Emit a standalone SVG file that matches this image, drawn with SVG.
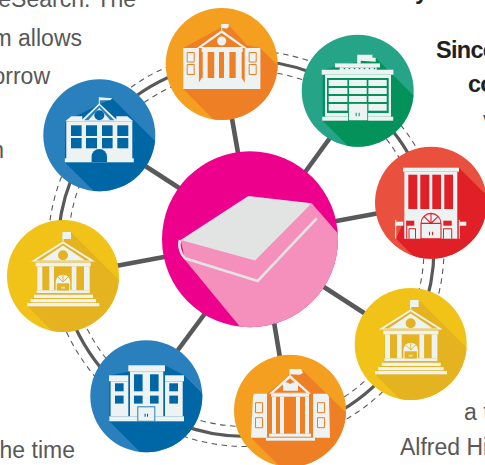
<svg xmlns="http://www.w3.org/2000/svg" xmlns:xlink="http://www.w3.org/1999/xlink" width="485" height="465" viewBox="0 0 485 465">
<style>
.t{font-family:"Liberation Sans",Arial,sans-serif;font-size:23px;fill:#58585a}
.b{font-family:"Liberation Sans",Arial,sans-serif;font-size:23.500px;letter-spacing:-.7px;font-weight:bold;fill:#231f20}
.solid{fill:none;stroke:#58595b;stroke-width:3.2}
.dash{fill:none;stroke:#58595b;stroke-width:1.100;stroke-dasharray:5.500 4.500}
.spoke{stroke:#58595b;stroke-width:4.600;fill:none}
.w{fill:#edf2f3}
.orange{fill:#f49f1f}.orangeD{fill:#ee7f24}
.blue{fill:#2980bc}.blueD{fill:#0067a7}
.green{fill:#26a488}.greenD{fill:#03935a}
.red{fill:#e9503d}.redD{fill:#e01f26}
.yellow{fill:#f1c319}.yellowD{fill:#e4b31f}
</style>
<defs>
<clipPath id="c56"><circle r="56"/></clipPath>
<clipPath id="c88"><circle r="88"/></clipPath>
<g id="court">
<rect class="w" x="-0.600" y="-44" width="1.200" height="9"/>
<polygon class="w" points="0,-44 8,-44 8,-37 0,-37"/>
<polygon class="w" points="0,-34.700 32,-14.500 -32,-14.500"/>
<polygon class="yellowD" points="0,-32.500 27,-15.500 -27,-15.500"/>
<polygon class="w" points="0,-30.500 22,-15.700 -22,-15.700"/>
<circle class="yellowD" cy="-20.700" r="5"/>
<rect class="w" x="-27.300" y="-13.500" width="55" height="3.800"/>
<rect class="w" x="-25.700" y="-9.700" width="5" height="24"/>
<rect class="w" x="-13.700" y="-9.700" width="4.700" height="24"/>
<rect class="w" x="8.700" y="-9.700" width="4.700" height="24"/>
<rect class="w" x="21" y="-9.700" width="5.700" height="24"/>
<rect class="w" x="-26.300" y="14.300" width="53" height="2.700"/>
<path class="w" d="M-7.300 6A7.300 7.300 0 0 1 7.300 6V15H-7.300Z"/>
<path class="yellowD" d="M-6.200 7.300H6.200V14.600H-6.200Z"/>
<rect class="w" x="-2" y="10.700" width="4" height="2" opacity=".6"/>
<path d="M0-1V6M-5 1L0 6L5 1" stroke="#e4b31f" stroke-width=".9" fill="none"/>
<rect class="w" x="-29" y="18.700" width="59" height="3.300"/>
<rect class="w" x="-32.500" y="23" width="65.500" height="3.300"/>
<rect class="w" x="-35.700" y="27" width="72" height="3.300"/>
</g>
</defs>

<g id="connectors">
<circle class="dash" cx="246" cy="248.500" r="198"/>
<circle class="dash" cx="246" cy="248.500" r="178"/>
<circle class="solid" cx="246" cy="248.500" r="188"/>
<path class="spoke" d="M231 113L241 170"/>
<path class="spoke" d="M136 160L190 195"/>
<path class="spoke" d="M335 131L295 186"/>
<path class="spoke" d="M385 212L320 224"/>
<path class="spoke" d="M105 268L180 254"/>
<path class="spoke" d="M172 358L215 300"/>
<path class="spoke" d="M282 370L272 310"/>
<path class="spoke" d="M378 322L310 278"/>
</g>

<g id="text">
<text class="t" x="136" y="7" text-anchor="end">eSearch. The</text>
<text class="t" x="82" y="46" text-anchor="end">m allows</text>
<text class="t" x="50" y="84" text-anchor="end">orrow</text>
<text class="t" x="4" y="158" text-anchor="end">n</text>
<text class="t" x="75" y="458" text-anchor="end">he time</text>
<text class="b" x="436" y="58">Since</text>
<text class="b" x="468" y="92">co</text>
<text class="t" x="483" y="128">v</text>
<text class="b" x="415" y="-1">y</text>
<text class="t" x="464" y="420">a t</text>
<text class="t" x="400" y="455">Alfred Hit</text>
</g>

<g id="node-orange-top" transform="translate(221.700 64)">
<circle class="orange" r="56"/>
<polygon class="orangeD" clip-path="url(#c56)" points="6,-40 25,-19 38.500,-16 80,25 80,80 16,80 -38.500,25 -38.500,-16"/>
<rect class="w" x="-0.500" y="-40" width="1" height="6"/>
<polygon class="w" points="0,-40 7,-40 7,-37 5,-35.500 0,-36"/>
<polygon class="w" points="0,-34 25,-16 -25,-16"/>
<polygon class="orangeD" points="0,-31 20,-17 -20,-17"/>
<circle class="w" cy="-23" r="4.500"/>
<rect class="w" x="-20" y="-16" width="41" height="4"/>
<path class="w" d="M-19-12h39v26h-39z"/>
<rect class="orangeD" x="-14" y="-12" width="6.500" height="26"/>
<rect class="orangeD" x="-2.700" y="-12" width="5" height="26"/>
<rect class="orangeD" x="7.700" y="-12" width="6.300" height="26"/>
<polygon class="w" points="-20,14 20,14 27,25 -27,25"/>
<rect class="w" x="-38.500" y="-16" width="15.700" height="41"/>
<rect class="w" x="23" y="-16" width="15.700" height="41"/>
<path fill="none" stroke="#ee7f24" d="M-34.500-11.500h7v9.500h-7zM-34.500 0.500h7v10h-7zM27.500-11.500h7v9.500h-7zM27.500 0.500h7v10h-7z"/>
</g>

<g id="node-blue-top" transform="translate(99.300 135.300)">
<circle class="blue" r="56"/>
<polygon class="blueD" clip-path="url(#c56)" points="13,-37 80,30 80,80 19,80 -34.500,27 -34,-14"/>
<rect class="w" x="-0.500" y="-38" width="1" height="7"/>
<polygon class="w" points="0,-38 13,-37 11,-35 0,-35"/>
<polygon class="w" points="0,-32 19,-14 -19,-14"/>
<polygon fill="#2980bc" points="0,-30 15,-15 -15,-15"/>
<polygon class="w" points="0,-27.500 11,-15 -11,-15"/>
<circle class="blueD" cy="-20" r="5"/>
<polygon class="w" points="-34,-14 -28,-19 -17,-19 -17,-14 17,-14 17,-19 28,-19 34,-14"/>
<rect class="w" x="-33" y="-14" width="66" height="38"/>
<rect class="w" x="-34.500" y="23" width="69" height="4"/>
<g class="blueD">
<rect x="-28.300" y="-10" width="10.600" height="10.700"/><rect x="-13.300" y="-10" width="11" height="10.700"/><rect x="2.700" y="-10" width="10.600" height="10.700"/><rect x="18" y="-10" width="11" height="10.700"/>
<rect x="-28.300" y="2.700" width="10.600" height="10.300"/><rect x="-13.300" y="2.700" width="11" height="10.300"/><rect x="2.700" y="2.700" width="10.600" height="10.300"/><rect x="18" y="2.700" width="11" height="10.300"/>
<path d="M-7.700 27V21.500A7.700 7.700 0 0 1 7.700 21.500V27Z"/>
</g>
</g>

<g id="node-green" transform="translate(357.700 90.700)">
<circle class="green" r="56"/>
<polygon class="greenD" clip-path="url(#c56)" points="18,-33 80,29 80,80 15,80 -35,30 -35,-21"/>
<polygon class="w" points="-0.500,-36 14.700,-36 14.700,-33 18,-33 18,-29 3,-30 3,-27 -0.500,-27"/>
<rect class="w" x="-22.700" y="-27.300" width="45" height="4"/>
<rect class="w" x="-18" y="-23.300" width="37" height="3"/>
<path d="M-14-22H18" stroke="#03935a" stroke-width="1.300" stroke-dasharray="1.500 3.500" fill="none"/>
<rect class="w" x="-36" y="-21" width="71.700" height="5"/>
<rect class="w" x="-32.700" y="-16" width="66" height="42"/>
<rect class="greenD" x="-30.700" y="-12.700" width="61.700" height="35"/>
<g class="w">
<rect x="-29" y="-10.700" width="18.700" height="6"/><rect x="-8.700" y="-10.700" width="17.700" height="6"/><rect x="10.700" y="-10.700" width="18.300" height="6"/>
<rect x="-29" y="-2.700" width="18.700" height="6"/><rect x="-8.700" y="-2.700" width="17.700" height="6"/><rect x="10.700" y="-2.700" width="18.300" height="6"/>
<rect x="-29" y="5.300" width="18.700" height="6"/><rect x="-8.700" y="5.300" width="17.700" height="6"/><rect x="10.700" y="5.300" width="18.300" height="6"/>
<rect x="-29" y="13.300" width="18.700" height="6.700"/><rect x="10.700" y="13.300" width="18.300" height="6.700"/>
<rect x="-35.500" y="26" width="71" height="4"/>
</g>
<rect class="w" x="-9.300" y="12.700" width="19.300" height="17.300" stroke="#03935a" stroke-width=".8"/>
<path d="M-1.500 22v3.500M1.500 22v3.500" stroke="#26a488" stroke-width="1.200" fill="none"/>
</g>

<g id="node-red" transform="translate(431 202.700)">
<circle class="red" r="56"/>
<polygon class="redD" clip-path="url(#c56)" points="28,-35 90,27 90,90 19,90 -35,36 -26.700,18 -26.700,-31"/>
<rect class="w" x="-28" y="-35" width="56" height="4"/>
<rect class="w" x="-26.700" y="-31" width="53" height="67"/>
<g class="redD">
<rect x="-22.700" y="-28" width="9" height="34.300"/><rect x="-10.700" y="-28" width="9" height="34.300"/><rect x="1.300" y="-28" width="8.700" height="34.300"/><rect x="13.300" y="-28" width="8.700" height="34.300"/>
<rect x="-24.300" y="18" width="7.600" height="5"/><rect x="12.300" y="18" width="8.400" height="5"/>
</g>
<path d="M-10 36V20.700A10 10 0 0 1 10 20.700V36ZM-10 20.700H10M0 10.700V20.700M-7 13.700L0 20.700L7 13.700" fill="#edf2f3" stroke="#e01f26" stroke-width="1.100"/>
<path d="M-24.300 18V36M-22 36V26H-15.500V36M12.500 36V26H20.700V36" fill="none" stroke="#e01f26" stroke-width="1"/>
<path d="M-35.300 17V36M28.300 17V36" stroke="#edf2f3" stroke-width="1"/>
<rect class="w" x="-35.300" y="19" width="7.600" height="4"/>
<rect class="w" x="28.300" y="19" width="7" height="4"/>
<path d="M-1.500 29v3.500M1.500 29v3.500" stroke="#e01f26" stroke-width="1.100" fill="none"/>
</g>

<g id="node-yellow-left" transform="translate(63 276)">
<circle class="yellow" r="56"/>
<polygon class="yellowD" clip-path="url(#c56)" points="8,-44 80,28 80,80 14,80 -35.700,30 -26,16 -26,-13 0,-34 0,-44"/>
<use href="#court" xlink:href="#court"/>
</g>

<g id="node-yellow-right" transform="translate(410.700 344)">
<circle class="yellow" r="56"/>
<polygon class="yellowD" clip-path="url(#c56)" points="8,-44 80,28 80,80 14,80 -35.700,30 -26,16 -26,-13 0,-34 0,-44"/>
<use href="#court" xlink:href="#court"/>
</g>

<g id="node-blue-bottom" transform="translate(146.300 396.300)">
<circle class="blue" r="56"/>
<polygon class="blueD" clip-path="url(#c56)" points="18.700,-31 37.700,-21 80,21 80,80 18,80 -37,25 -37,-21"/>
<rect class="w" x="-18" y="-31" width="36.700" height="6"/>
<rect class="w" x="-16.300" y="-25" width="33.300" height="45"/>
<rect class="w" x="-37.300" y="-21" width="19.300" height="6"/>
<rect class="w" x="-35.700" y="-15" width="17.700" height="35"/>
<rect class="w" x="18.700" y="-21" width="19" height="6"/>
<rect class="w" x="18.700" y="-15" width="17.700" height="35"/>
<rect class="w" x="-37" y="20" width="74.700" height="5"/>
<g class="blueD">
<rect x="-12.300" y="-22" width="8.600" height="17"/><rect x="3.700" y="-22" width="8.600" height="17"/>
<rect x="-12.300" y="-0.700" width="8.600" height="8"/><rect x="3.700" y="-0.700" width="8.600" height="8"/>
<rect x="-31.300" y="-13" width="8.600" height="8"/><rect x="-31.300" y="-0.700" width="8.600" height="8"/>
<rect x="23" y="-13" width="8.700" height="8"/><rect x="23" y="-0.700" width="8.700" height="8"/>
</g>
<rect class="w" x="-8.500" y="10.500" width="17" height="14.500" stroke="#2980bc"/>
<path d="M-1.200 17.500v3M1.200 17.500v3" stroke="#0067a7" stroke-width="1.100" fill="none"/>
</g>

<g id="node-orange-bottom" transform="translate(290 410.700)">
<circle class="orange" r="56"/>
<polygon class="orangeD" clip-path="url(#c56)" points="13,-40 80,25 80,92 26,92 -39,27 -23,-17 0,-36 0,-41"/>
<rect class="w" x="-0.500" y="-41.700" width="1" height="6"/>
<polygon class="w" points="0,-41.700 11,-41.700 13,-38 10,-36 0,-36.500"/>
<polygon class="w" points="0,-36 21,-17 -21,-17"/>
<polygon class="orangeD" points="0,-32.500 16.500,-18 -16.500,-18"/>
<path class="w" d="M-7-28C-4-29 -1-28 0-26.500C1-28 5-29 8-28V-20H-7Z"/>
<rect class="w" x="-19" y="-17" width="38" height="3"/>
<rect class="w" x="-18" y="-14" width="4" height="37"/>
<rect class="w" x="-10" y="-14" width="4" height="37"/>
<rect class="w" x="6" y="-14" width="4" height="37"/>
<rect class="w" x="15" y="-14" width="4" height="37"/>
<rect class="w" x="-21" y="23" width="42" height="3"/>
<rect class="w" x="-24" y="27" width="49" height="3"/>
<polygon class="w" points="-36,-17 -23,-17 -23,27 -39,27 -37,-14"/>
<polygon class="w" points="23,-17 37,-17 39,-14 40,27 23,27"/>
<path fill="none" stroke="#ee7f24" d="M-34.500-8h7v10h-7zM-34.500 7h7v10h-7zM27.500-8h7v10h-7zM27.500 7h7v10h-7z"/>
</g>

<g id="node-center" transform="translate(250 239.300)">
<circle fill="#ed008c" r="88"/>
<polygon fill="#f590bd" clip-path="url(#c88)" points="61.700,-36 100,8 100,100 2,102 -65,20.700 -69.300,0.700"/>
<polygon fill="#e2e4e3" points="-1.700,-43.300 61.700,-36 5,21.300 -69.300,0.700"/>
<path d="M-70 0.700C-72 7-69 15-65 19L7.700 41.700L66.700-21" fill="none" stroke="#e2e4e3" stroke-width="2.600"/>
</g>
</svg>
